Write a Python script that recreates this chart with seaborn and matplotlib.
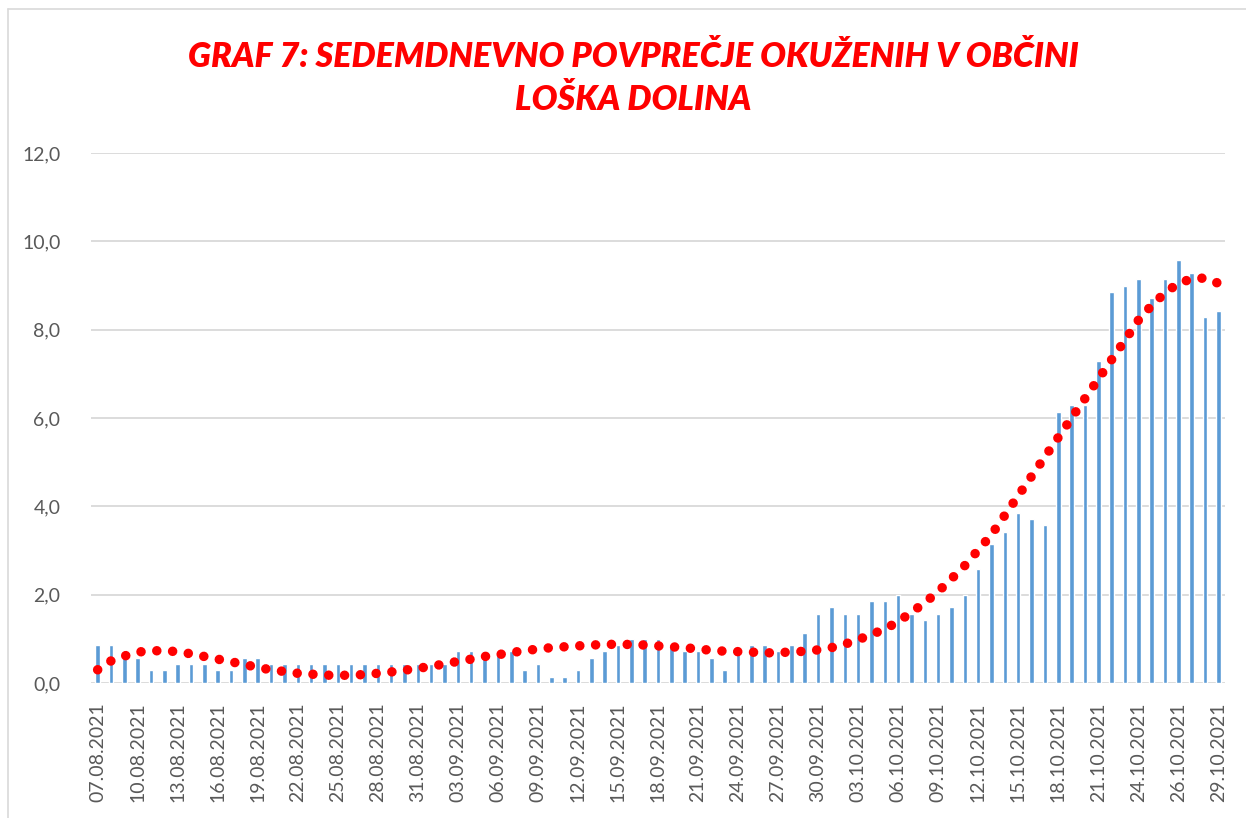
import numpy as np
import pandas as pd
import matplotlib
matplotlib.use("Agg")
import matplotlib.pyplot as plt
from matplotlib.lines import Line2D
import seaborn as sns

# ---------------- data ----------------
tick_labels = ["07.08.2021", "10.08.2021", "13.08.2021", "16.08.2021", "19.08.2021",
               "22.08.2021", "25.08.2021", "28.08.2021", "31.08.2021", "03.09.2021",
               "06.09.2021", "09.09.2021", "12.09.2021", "15.09.2021", "18.09.2021",
               "21.09.2021", "24.09.2021", "27.09.2021", "30.09.2021", "03.10.2021",
               "06.10.2021", "09.10.2021", "12.10.2021", "15.10.2021", "18.10.2021",
               "21.10.2021", "24.10.2021", "26.10.2021", "29.10.2021"]

# seven-day average of infections (bars), one value per day
avg7 = [0.857, 0.857, 0.571, 0.571, 0.286, 0.286, 0.429, 0.429, 0.429, 0.286,
        0.286, 0.571, 0.571, 0.429, 0.429, 0.429, 0.429, 0.429, 0.429, 0.429,
        0.429, 0.429, 0.429, 0.429, 0.429, 0.429, 0.429, 0.714, 0.714, 0.714,
        0.714, 0.714, 0.286, 0.429, 0.143, 0.143, 0.286, 0.571, 0.714, 0.857,
        1.000, 1.000, 1.000, 0.857, 0.714, 0.714, 0.571, 0.286, 0.714, 0.857,
        0.857, 0.714, 0.857, 1.143, 1.571, 1.714, 1.571, 1.571, 1.857, 1.857,
        2.000, 1.571, 1.429, 1.571, 1.714, 2.000, 2.571, 3.143, 3.429, 3.857,
        3.714, 3.571, 6.143, 6.286, 6.286, 7.286, 8.857, 9.000, 9.143, 8.714,
        9.143, 9.571, 9.286, 8.286, 8.429]

# trend line (red dotted), one value per day
trend = [0.30, 0.50, 0.61, 0.70, 0.73, 0.73, 0.71, 0.66, 0.60, 0.54,
         0.48, 0.42, 0.35, 0.30, 0.26, 0.22, 0.20, 0.18, 0.17, 0.18,
         0.19, 0.22, 0.25, 0.29, 0.33, 0.38, 0.43, 0.49, 0.54, 0.60,
         0.64, 0.69, 0.73, 0.77, 0.80, 0.82, 0.84, 0.86, 0.87, 0.88,
         0.87, 0.86, 0.84, 0.82, 0.80, 0.77, 0.74, 0.72, 0.71, 0.70,
         0.68, 0.69, 0.70, 0.72, 0.75, 0.80, 0.88, 0.98, 1.10, 1.22,
         1.39, 1.60, 1.82, 2.07, 2.36, 2.66, 3.01, 3.36, 3.80, 4.24,
         4.68, 5.12, 5.56, 6.00, 6.44, 6.88, 7.32, 7.76, 8.21, 8.55,
         8.83, 9.05, 9.15, 9.17, 9.05]

y_ticks = [0, 2, 4, 6, 8, 10, 12]

title_lines = ["GRAF 7: SEDEMDNEVNO POVPREČJE OKUŽENIH V OBČINI", "LOŠKA DOLINA"]

# ---------------- plot ----------------
sns.set_theme(style="white")
plt.rcParams["font.family"] = ["Lato", "DejaVu Sans"]

day = np.arange(len(avg7))
df = pd.DataFrame({"dan": day, "povprecje": avg7, "trend": trend})

fig = plt.figure(figsize=(12.46, 8.18), dpi=100)
ax = fig.add_axes([91 / 1246, 1 - 683 / 818, (1225 - 91) / 1246, (683 - 153) / 818])

sns.barplot(data=df, x="dan", y="povprecje", color="#5B9BD5", saturation=1,
            width=0.34, ax=ax, zorder=2)
sns.lineplot(data=df, x="dan", y="trend", color="#FF0000", ax=ax,
             linewidth=6.9, linestyle=(0, (0.001, 1.65)),
             dash_capstyle="round", zorder=3)

ax.set_xlim(-0.5, len(avg7) - 0.5)
ax.set_ylim(0, 12)
ax.set_yticks(y_ticks)
ax.set_yticklabels([f"{v:.1f}".replace(".", ",") for v in y_ticks])
ax.set_xticks(np.arange(0, len(avg7), 3))
ax.set_xticklabels(tick_labels, rotation=90)
ax.tick_params(axis="y", length=0, pad=22, labelsize=14, labelcolor="#595959")
ax.tick_params(axis="x", length=0, pad=14, labelsize=14, labelcolor="#595959")
ax.set_xlabel("")
ax.set_ylabel("")
for s in ax.spines.values():
    s.set_visible(False)
ax.yaxis.grid(True, color="#D9D9D9", linewidth=1.3, zorder=0)
ax.set_axisbelow(True)

fig.text(0.508, 1 - 57 / 818, title_lines[0], ha="center", va="center",
         color="#FF0000", fontsize=24.5, fontweight="heavy", fontstyle="italic")
fig.text(0.508, 1 - 100 / 818, title_lines[1], ha="center", va="center",
         color="#FF0000", fontsize=24.5, fontweight="heavy", fontstyle="italic")

# chart-area border (only top and left visible in the reference)
fig.add_artist(Line2D([8 / 1246, 1], [1 - 9 / 818, 1 - 9 / 818],
                      transform=fig.transFigure, color="#D9D9D9", linewidth=1.2))
fig.add_artist(Line2D([8 / 1246, 8 / 1246], [0, 1 - 9 / 818],
                      transform=fig.transFigure, color="#D9D9D9", linewidth=1.2))

fig.savefig("out.png", dpi=100, facecolor="white")
